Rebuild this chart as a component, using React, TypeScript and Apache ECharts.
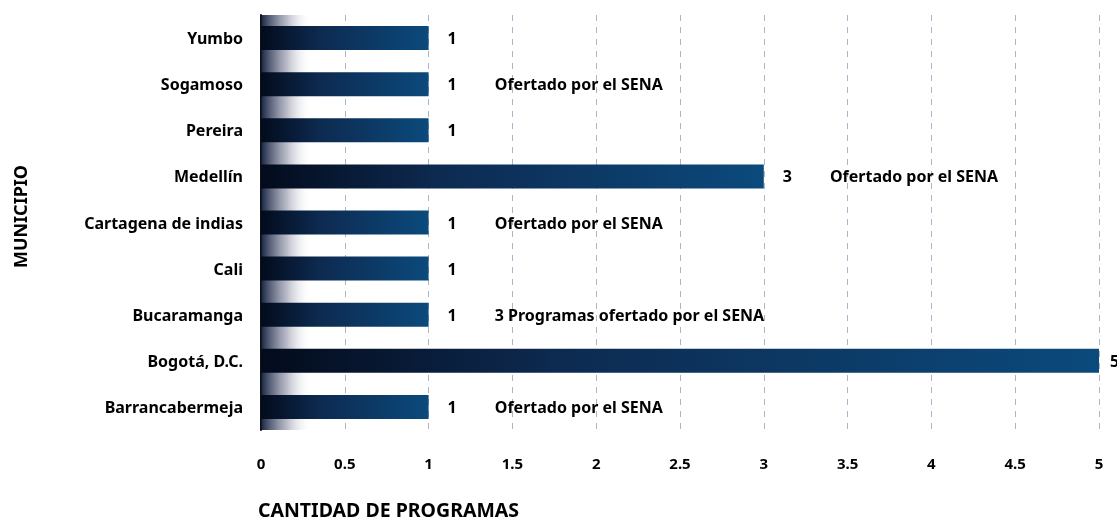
import React, { useEffect, useRef } from "react";
import * as echarts from "echarts";

const categories = [
  "Barrancabermeja",
  "Bogotá, D.C.",
  "Bucaramanga",
  "Cali",
  "Cartagena de indias",
  "Medellín",
  "Pereira",
  "Sogamoso",
  "Yumbo",
];
const values = [1, 5, 1, 1, 1, 3, 1, 1, 1];
const notes = [
  "Ofertado por el SENA",
  "",
  "3 Programas ofertado por el SENA",
  "",
  "Ofertado por el SENA",
  "Ofertado por el SENA",
  "",
  "Ofertado por el SENA",
  "",
];
const xAxisTitle = "CANTIDAD DE PROGRAMAS";
const yAxisTitle = "MUNICIPIO";

const FONT = "'Noto Sans', sans-serif";

export default function App() {
  const ref = useRef<HTMLDivElement>(null);
  useEffect(() => {
    if (!ref.current) return;
    const chart = echarts.init(ref.current, undefined, { renderer: "svg" });
    const maxVal = Math.max(...values);
    chart.setOption({
      animation: false,
      textStyle: { fontFamily: FONT },
      title: {
        text: xAxisTitle,
        left: 258,
        top: 499,
        padding: 0,
        textStyle: {
          fontFamily: FONT,
          fontWeight: "bold",
          fontSize: 19.5,
          lineHeight: 20,
          color: "#000",
        },
      },
      grid: { left: 261, right: 18, top: 15, bottom: 91, containLabel: false },
      xAxis: {
        type: "value",
        min: 0,
        max: 5,
        interval: 0.5,
        axisLine: { show: false },
        axisTick: { show: false },
        axisLabel: {
          margin: 25,
          color: "#000",
          fontWeight: "bold",
          fontSize: 15,
          fontFamily: FONT,
        },
        splitLine: {
          show: true,
          lineStyle: { color: "#aab6c8", type: [6, 6], width: 1 },
        },
      },
      yAxis: {
        type: "category",
        data: categories,
        name: yAxisTitle,
        nameLocation: "middle",
        nameRotate: 90,
        nameGap: 232,
        nameTextStyle: {
          fontFamily: FONT,
          fontWeight: "bold",
          fontSize: 18,
          color: "#000",
          padding: [0, 0, 0, 12],
        },
        axisLine: { show: true, lineStyle: { color: "#111", width: 2 } },
        axisTick: { show: false },
        axisLabel: {
          margin: 18,
          color: "#000",
          fontWeight: "bold",
          fontSize: 16,
          fontFamily: FONT,
        },
        splitLine: { show: false },
      },
      series: [
        {
          type: "bar",
          data: values.map((v) =>
            v === maxVal ? { value: v, label: { distance: 11 } } : { value: v }
          ),
          barWidth: 24,
          itemStyle: {
            color: new echarts.graphic.LinearGradient(0, 0, 1, 0, [
              { offset: 0, color: "#030b1c" },
              { offset: 0.35, color: "#0d2a50" },
              { offset: 1, color: "#0b4a7c" },
            ]),
          },
          label: {
            show: true,
            position: "right",
            distance: 19,
            formatter: (p: any) => {
              const note = notes[p.dataIndex];
              return note ? `{a|${p.value}}{b|${note}}` : `{a|${p.value}}`;
            },
            rich: {
              a: { fontFamily: FONT, fontWeight: "bold", fontSize: 16, color: "#000" },
              b: {
                fontFamily: FONT,
                fontWeight: "bold",
                fontSize: 16,
                color: "#000",
                padding: [0, 0, 0, 38],
              },
            },
          },
          markArea: {
            silent: true,
            itemStyle: {
              color: new echarts.graphic.LinearGradient(0, 0, 1, 0, [
                { offset: 0, color: "rgba(10,25,55,0.95)" },
                { offset: 0.5, color: "rgba(90,95,125,0.45)" },
                { offset: 1, color: "rgba(255,255,255,0)" },
              ]),
            },
            data: [[{ xAxis: 0 }, { xAxis: 0.3 }]],
          },
          z: 3,
        },
      ],
    });
    return () => chart.dispose();
  }, []);
  return (
    <div
      ref={ref}
      style={{ position: "fixed", left: 0, top: 0, width: 1117, height: 521, overflow: "hidden" }}
    />
  );
}
